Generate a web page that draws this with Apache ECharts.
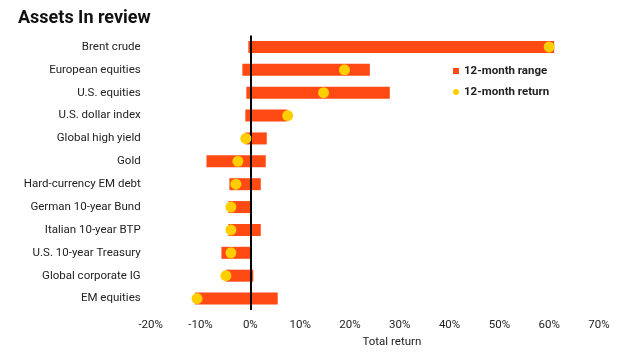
<!DOCTYPE html>
<html><head><meta charset="utf-8">
<script src="https://cdn.jsdelivr.net/npm/echarts@6/dist/echarts.min.js"></script>
<style>html,body{margin:0;padding:0;background:#fff}#c{width:632px;height:356px}</style>
</head><body><div id="c"></div>
<script>
const categories = ["Brent crude","European equities","U.S. equities","U.S. dollar index","Global high yield","Gold","Hard-currency EM debt","German 10-year Bund","Italian 10-year BTP","U.S. 10-year Treasury","Global corporate IG","EM equities"];
const rangeMin = [-0.4,-1.6,-0.8,-1.0,-1.0,-8.8,-4.2,-4.4,-4.4,-5.8,-4.9,-11.1];
const rangeMax = [61.0,24.0,28.0,7.4,3.3,3.1,2.1,0.0,2.1,0.3,0.6,5.5];
const returns12m = [60.0,18.9,14.7,7.5,-0.9,-2.5,-2.9,-3.9,-3.9,-3.9,-4.9,-10.7];
const xTicks = {min:-20,max:70,interval:10};

const chart = echarts.init(document.getElementById('c'), null, {renderer:'canvas'});
const FONT = 'Roboto';
chart.setOption({
  animation:false,
  textStyle:{fontFamily:FONT},
  title:{text:'Assets In review',left:18,top:9,padding:0,textStyle:{fontFamily:FONT,fontSize:18,fontWeight:'bold',color:'#111'}},
  legend:{
    orient:'vertical',left:448,top:60,itemGap:9,itemWidth:6,itemHeight:6,
    textStyle:{fontFamily:FONT,fontSize:11.5,fontWeight:'bold',color:'#222'},
    data:[{name:'12-month range',icon:'rect'},{name:'12-month return',icon:'circle'}]
  },
  grid:{left:150.7,right:33,top:35.5,bottom:46,containLabel:false},
  xAxis:{
    type:'value',min:xTicks.min,max:xTicks.max,interval:xTicks.interval,
    axisLine:{show:false},axisTick:{show:false},splitLine:{show:false},
    axisLabel:{formatter:'{value}%',color:'#222',fontSize:11.5,margin:9},
    name:'Total return',nameLocation:'middle',nameGap:26,
    nameTextStyle:{color:'#222',fontSize:11.5,padding:[0,0,0,34]}
  },
  yAxis:{
    type:'category',data:categories,inverse:true,
    axisLine:{show:false},axisTick:{show:false},splitLine:{show:false},
    axisLabel:{color:'#222',fontSize:11.5,margin:10}
  },
  series:[
    {
      name:'12-month range',type:'custom',
      itemStyle:{color:'#FF4A14'},
      encode:{x:[1,2],y:0},
      data:categories.map((c,i)=>[i,rangeMin[i],rangeMax[i]]),
      renderItem:function(params,api){
        const a=api.coord([api.value(1),api.value(0)]);
        const b=api.coord([api.value(2),api.value(0)]);
        const h=12;
        return {type:'rect',shape:{x:a[0],y:a[1]-h/2,width:b[0]-a[0],height:h},style:{fill:'#FF4A14'}};
      },
      markLine:{
        silent:true,symbol:'none',label:{show:false},
        lineStyle:{color:'#000',width:2,type:'solid'},
        data:[{xAxis:0}]
      },
      z:2
    },
    {
      name:'12-month return',type:'scatter',symbol:'circle',symbolSize:11,
      itemStyle:{color:'#FFCE00',opacity:1},
      data:categories.map((c,i)=>[returns12m[i],c]),
      z:5
    }
  ]
});
</script></body></html>
